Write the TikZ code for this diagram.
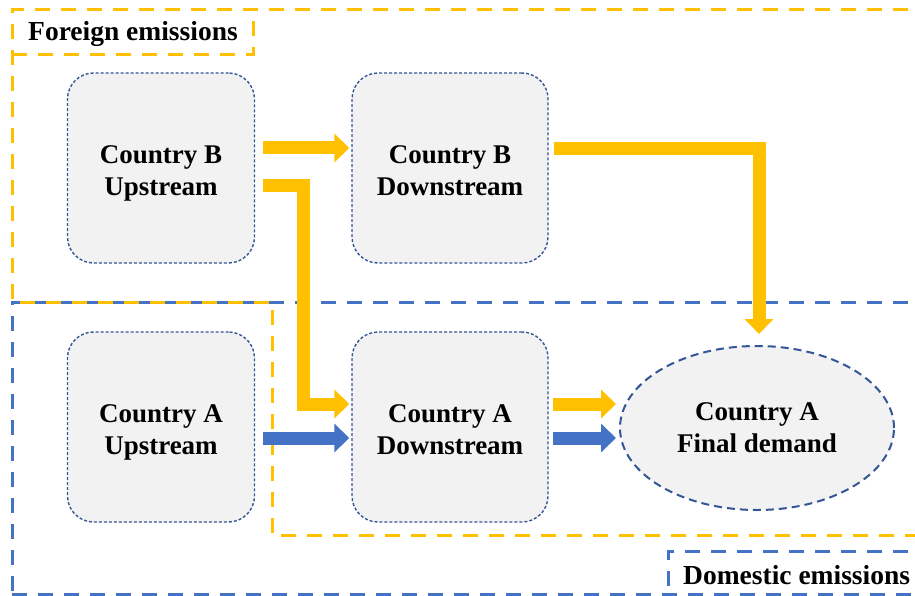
\documentclass[tikz,border=0pt]{standalone}
\usepackage{fontspec}
\setmainfont{Liberation Serif}
\usetikzlibrary{arrows.meta,calc,shapes.geometric}
\definecolor{orng}{HTML}{FFC000}
\definecolor{blu}{HTML}{4472C4}
\definecolor{edge}{RGB}{52,86,150}
\definecolor{boxfill}{HTML}{F2F2F2}
\tikzset{
  stagebox/.style={draw=edge, fill=boxfill, line width=1.4pt, dash pattern=on 3pt off 2pt,
    rounded corners=26pt, minimum width=187pt, minimum height=190pt, inner sep=0pt},
  stagetext/.style={align=center, font=\fontsize{27}{32}\selectfont\bfseries, inner sep=0pt},
  demand/.style={ellipse, draw=edge, fill=boxfill, line width=2pt, dash pattern=on 8pt off 5pt,
    minimum width=274pt, minimum height=164pt, align=center,
    font=\fontsize{27}{32}\selectfont\bfseries, inner sep=0pt},
  oarrow/.style={draw=orng, line width=13pt, line join=miter,
    -{Triangle[width=28pt,length=15pt]}},
  barrow/.style={draw=blu, line width=13pt, line join=miter,
    -{Triangle[width=28pt,length=15pt]}},
  region/.style={line width=3pt, dash pattern=on 15pt off 11pt},
  regionlabel/.style={font=\fontsize{27.5}{31}\selectfont\bfseries, inner sep=0pt}
}
\begin{document}
\begin{tikzpicture}[x=1pt,y=-1pt]
\useasboundingbox (0,0) rectangle (915,596);
\clip (0,0) rectangle (915,596);
% regions
\draw[region, draw=blu] (960,302) -- (12,302) -- (12,640);
\draw[region, draw=orng] (960,10) -- (12,10) -- (12,302) -- (272,302) -- (272,535) -- (960,535);
\draw[region, draw=orng] (12,55) -- (253,55) -- (253,12);
\draw[region, draw=blu] (960,551) -- (668,551) -- (668,640);
\draw[region, draw=blu] (12,594) -- (960,594);
\node[regionlabel] (fe) at (133,34) {Foreign emissions};
\node[regionlabel, anchor=west] (de) at (683,575) {Domestic emissions};
% stages
\node[stagebox] (bu) at (161,168) {};
\node[stagebox, minimum width=196pt] (bd) at (450,168) {};
\node[stagebox] (au) at (161,427) {};
\node[stagebox, minimum width=196pt] (ad) at (450,427) {};
\node[stagetext, anchor=base] (bu-t) at ($(bu.center)+(0,28)$) {Country B\\Upstream};
\node[stagetext, anchor=base] (bd-t) at ($(bd.center)+(0,28)$) {Country B\\Downstream};
\node[stagetext, anchor=base] (au-t) at ($(au.center)+(0,27)$) {Country A\\Upstream};
\node[stagetext, anchor=base] (ad-t) at ($(ad.center)+(0,27)$) {Country A\\Downstream};
\node[demand] (fd) at (757,428) {Country A\\Final demand};
% flows
\draw[oarrow] ($(bu.east)+(8,-20)$) -- ($(bd.west)+(-2,-20)$);
\draw[oarrow] ($(bu.east)+(8,18)$) -- ++(40,0) |- ($(ad.west)+(-2,-23)$);
\draw[barrow] ($(au.east)+(8,11)$) -- ($(ad.west)+(-2,11)$);
\draw[oarrow] ($(bd.east)+(5,-19)$) -| ($(fd.north)+(2,-11)$);
\draw[oarrow] ($(ad.east)+(4,-23)$) -- ($(fd.west)+(-3,-24)$);
\draw[barrow] ($(ad.east)+(4,11)$) -- ($(fd.west)+(-3,10)$);
\end{tikzpicture}
\end{document}
